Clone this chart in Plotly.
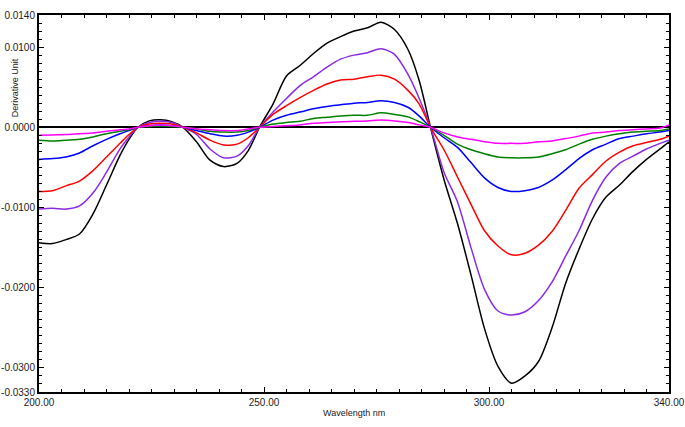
import plotly.graph_objects as go

wavelength = [200, 203, 206, 209, 212, 215, 218, 220, 222, 224.5, 227, 229.5, 232,
              235, 238, 241, 244, 246.5, 249, 252, 255, 258, 261, 264, 267, 270, 273,
              276, 279, 282, 284.5, 287, 290, 293, 296, 299, 302, 305, 308, 311, 314,
              317, 320, 323, 326, 329, 332, 335, 338, 340]

black = [-0.0144, -0.0145, -0.0140, -0.0133, -0.0108, -0.0072, -0.0035, -0.0015, 0.0,
         0.0008, 0.00095, 0.0007, 0.0,
         -0.0018, -0.0041, -0.0049, -0.0045, -0.0029, 0.0,
         0.0029, 0.0064, 0.0077, 0.0092, 0.0105, 0.0113, 0.0120, 0.0124, 0.0131, 0.0122, 0.0097, 0.0058, 0.0,
         -0.0065, -0.0120, -0.0184, -0.0251, -0.0298, -0.0319, -0.0310, -0.0292, -0.0250, -0.0195,
         -0.0152, -0.0114, -0.0087, -0.0072, -0.0055, -0.0040, -0.0027, -0.0018]

purple = [-0.0102, -0.0101, -0.0102, -0.0098, -0.0082, -0.0056, -0.0027, -0.0012, 0.0,
          0.0006, 0.00075, 0.0006, 0.0,
          -0.0009, -0.0027, -0.0038, -0.0036, -0.0023, 0.0,
          0.0019, 0.0036, 0.0052, 0.0063, 0.0075, 0.0085, 0.0090, 0.0093, 0.0098, 0.0091, 0.0066, 0.0036, 0.0,
          -0.0056, -0.0093, -0.0150, -0.0202, -0.0229, -0.0234, -0.0230, -0.0216, -0.0193, -0.0161,
          -0.0129, -0.0091, -0.0062, -0.0045, -0.0036, -0.0027, -0.0020, -0.0016]

red = [-0.0080, -0.0079, -0.0073, -0.0067, -0.0054, -0.0037, -0.0020, -0.0009, 0.0,
       0.0004, 0.0005, 0.0004, 0.0,
       -0.0007, -0.0016, -0.0022, -0.0021, -0.0013, 0.0,
       0.0016, 0.0027, 0.0037, 0.0046, 0.0054, 0.0059, 0.0060, 0.0063, 0.0065, 0.0060, 0.0046, 0.0029, 0.0,
       -0.0028, -0.0062, -0.0096, -0.0129, -0.0148, -0.0159, -0.0157, -0.0147, -0.0130, -0.0104,
       -0.0076, -0.0059, -0.0042, -0.0031, -0.0023, -0.0019, -0.0015, -0.0011]

blue = [-0.0040, -0.0039, -0.0037, -0.0032, -0.0023, -0.0015, -0.0008, -0.0004, 0.0,
        0.0002, 0.0003, 0.0002, 0.0,
        -0.0004, -0.0008, -0.0011, -0.0010, -0.0006, 0.0,
        0.0009, 0.0015, 0.0019, 0.0023, 0.0026, 0.0028, 0.0030, 0.0031, 0.0033, 0.0031, 0.0025, 0.0014, 0.0,
        -0.0013, -0.0025, -0.0044, -0.0063, -0.0075, -0.0080, -0.0079, -0.0075, -0.0066, -0.0053,
        -0.0039, -0.0028, -0.0021, -0.0014, -0.0011, -0.0008, -0.0006, -0.0004]

green = [-0.0016, -0.0017, -0.0016, -0.0015, -0.0012, -0.0008, -0.0005, -0.0003, 0.0,
         0.0001, 0.00015, 0.0001, 0.0,
         -0.0002, -0.0005, -0.0006, -0.0006, -0.0004, 0.0,
         0.0004, 0.0006, 0.00075, 0.0011, 0.00125, 0.0014, 0.0015, 0.0015, 0.0018, 0.0016, 0.0013, 0.0007, 0.0,
         -0.0010, -0.0021, -0.0028, -0.0033, -0.0037, -0.0038, -0.0038, -0.0037, -0.0033, -0.0028,
         -0.0021, -0.0015, -0.0011, -0.0008, -0.0006, -0.0005, -0.0004, -0.0002]

magenta = [-0.0010, -0.00095, -0.0009, -0.0008, -0.0007, -0.0005, -0.0003, -0.0002, 0.0,
           0.0002, 0.0003, 0.0002, 0.0,
           -0.0002, -0.0003, -0.0004, -0.0004, -0.0002, 0.0,
           0.0001, 0.0002, 0.0003, 0.0005, 0.0006, 0.0007, 0.00075, 0.0008, 0.0009, 0.0008, 0.0006, 0.0003, 0.0,
           -0.0007, -0.0012, -0.0015, -0.0018, -0.0020, -0.0020, -0.0020, -0.0018, -0.0017, -0.0014,
           -0.0011, -0.0007, -0.0006, -0.0004, -0.0003, -0.0002, -0.0001, 0.0003]

x_tickvals = [200, 250, 300, 340]
x_ticktext = ["200.00", "250.00", "300.00", "340.00"]
y_tickvals = [0.014, 0.010, 0.0, -0.010, -0.020, -0.030, -0.033]
y_ticktext = ["0.0140", "0.0100", "0.0000", "-0.0100", "-0.0200", "-0.0300", "-0.0330"]

series = [
    (black, "#000000"),
    (purple, "#8A2BE2"),
    (red, "#FF0000"),
    (blue, "#0000FF"),
    (green, "#008000"),
    (magenta, "#FF00FF"),
]

fig = go.Figure()
for vals, col in series:
    fig.add_trace(go.Scatter(x=wavelength, y=vals, mode="lines",
                             line=dict(color=col, width=1.5, shape="spline", smoothing=0.8),
                             showlegend=False, hoverinfo="skip"))

font_family = "Liberation Sans, Arial, sans-serif"

fig.update_layout(
    width=685, height=427,
    margin=dict(l=39, r=16, t=15, b=35, pad=0),
    paper_bgcolor="white", plot_bgcolor="white",
    font=dict(family=font_family, size=10, color="#222222"),
    xaxis=dict(range=[200, 340], tickmode="array", tickvals=x_tickvals, ticktext=x_ticktext,
               ticks="inside", ticklen=5, tickwidth=1, tickcolor="black",
               showline=True, linewidth=2, linecolor="black", mirror="allticks",
               showgrid=False, zeroline=False, automargin=False,
               minor=dict(tickmode="linear", tick0=200, dtick=5, ticks="inside",
                          ticklen=3, tickwidth=1, tickcolor="black", showgrid=False),
               tickfont=dict(size=10, color="#222222")),
    yaxis=dict(range=[-0.033, 0.014], tickmode="array", tickvals=y_tickvals, ticktext=y_ticktext,
               ticks="inside", ticklen=5, tickwidth=1, tickcolor="black",
               showline=True, linewidth=2, linecolor="black", mirror="allticks",
               showgrid=False, zeroline=True, zerolinecolor="black", zerolinewidth=2,
               automargin=False,
               minor=dict(tickmode="linear", tick0=0, dtick=0.001, ticks="inside",
                          ticklen=3, tickwidth=1, tickcolor="black", showgrid=False),
               tickfont=dict(size=10, color="#222222")),
    annotations=[
        dict(text="Derivative Unit", xref="paper", yref="paper", x=-0.038, y=0.806,
             textangle=-90, showarrow=False, xanchor="center", yanchor="middle",
             font=dict(size=9, color="#222222")),
        dict(text="Wavelength nm", xref="paper", yref="paper", x=0.5, y=-0.056,
             showarrow=False, xanchor="center", yanchor="middle",
             font=dict(size=9, color="#222222")),
    ],
)

fig.write_html("out.html", config={"displayModeBar": False},
               post_script="document.body.style.margin='0px';")
